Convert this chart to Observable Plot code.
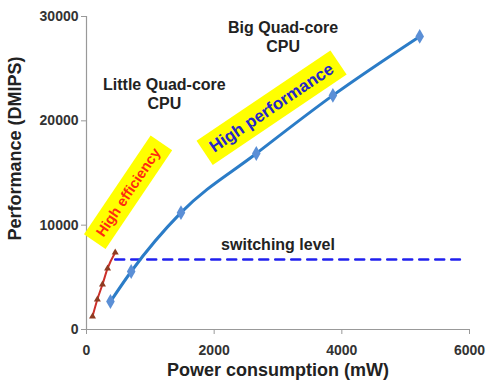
<!DOCTYPE html>
<html><head><meta charset="utf-8">
<script src="https://cdn.jsdelivr.net/npm/d3@7"></script>
<script src="https://cdn.jsdelivr.net/npm/@observablehq/plot@0.6"></script>
<style>
body{margin:0;background:#fff;}
svg{font-family:"Liberation Sans",Arial,sans-serif;}
</style>
</head><body><div id="chart"></div>
<script>
// Little quad-core CPU (power mW, performance DMIPS)
const littlePower = [94, 170, 250, 330, 450];
const littlePerf  = [1250, 2880, 4310, 5850, 7380];
// Big quad-core CPU
const bigPower = [375, 700, 1480, 2660, 3860, 5220];
const bigPerf  = [2680, 5560, 11200, 16870, 22440, 28090];
// Switching level
const switchLevel = 6710;
const switchPower = [450, 5850];
// Ticks
const xTicks = [0, 2000, 4000, 6000];
const yTicks = [0, 10000, 20000, 30000];
// Annotation texts
const annoText = ["Big Quad-core\nCPU", "Little Quad-core\nCPU", "switching level"];
const annoX = [3080, 1220, 3000];
const annoY = [28090, 22630, 8245];
const highText = ["High efficiency", "High performance"];
const highX = [656, 2900];
const highY = [13135, 21250];

const little = littlePower.map((p, i) => ({power: p, perf: littlePerf[i]}));
const big = bigPower.map((p, i) => ({power: p, perf: bigPerf[i]}));
const sw = switchPower.map(p => ({power: p, perf: switchLevel}));
const annos = annoText.map((t, i) => ({t, x: annoX[i], y: annoY[i]}));
const effs = [{t: highText[0], x: highX[0], y: highY[0]}];
const perfs = [{t: highText[1], x: highX[1], y: highY[1]}];

const chart = Plot.plot({
  width: 500,
  height: 389,
  marginLeft: 86,
  marginRight: 31,
  marginTop: 16,
  marginBottom: 60,
  style: {fontFamily: '"Liberation Sans", Arial, sans-serif', background: "#fff", overflow: "visible"},
  x: {domain: [0, 6000], label: null},
  y: {domain: [0, 30000], label: null},
  marks: [
    Plot.axisX({ticks: xTicks, tickFormat: d => String(d), tickSize: 5, stroke: "#999", fill: "#333", fontWeight: "bold", fontSize: 14, tickPadding: 11, label: null}),
    Plot.axisY({ticks: yTicks, tickFormat: d => String(d), tickSize: 5, stroke: "#999", fill: "#333", fontWeight: "bold", fontSize: 14, tickPadding: 3, label: null}),
    Plot.ruleX([0], {stroke: "#999", strokeWidth: 1.2}),
    Plot.ruleY([0], {stroke: "#999", strokeWidth: 1.2}),
    Plot.line(sw, {x: "power", y: "perf", stroke: "#2020ee", strokeWidth: 2.5, strokeDasharray: "9,7"}),
    Plot.line(little, {x: "power", y: "perf", stroke: "#cc2f2a", strokeWidth: 2, curve: "monotone-x"}),
    Plot.dot(little, {x: "power", y: "perf", symbol: "triangle", fill: "#8e3b22", r: 2.6}),
    Plot.line(big, {x: "power", y: "perf", stroke: "#2b7cc7", strokeWidth: 3, curve: "monotone-x"}),
    Plot.dot(big, {x: "power", y: "perf", symbol: "diamond", fill: "#5b8fd6", r: 4.5}),
    Plot.text(annos, {x: "x", y: "y", text: "t", fontSize: 16, fontWeight: "bold", fill: "#222", lineHeight: 1.2}),
    Plot.text(effs, {x: "x", y: "y", text: "t", fontSize: 14.5, fontWeight: "bold", fill: "#ff2a10", rotate: -56}),
    Plot.text(perfs, {x: "x", y: "y", text: "t", fontSize: 17, fontWeight: "bold", fill: "#2626c8", rotate: -34}),
    Plot.text(["Performance (DMIPS)"], {frameAnchor: "left", y: [17350], dx: -71, rotate: -90, textAnchor: "middle", fontSize: 18, fontWeight: "bold", fill: "#222"}),
    Plot.text(["Power consumption (mW)"], {frameAnchor: "bottom", x: [3000], dy: 46, fontSize: 18, fontWeight: "bold", fill: "#222"})
  ]
});
document.getElementById("chart").append(chart);

// yellow highlight boxes behind the rotated labels
chart.querySelectorAll("text").forEach(t => {
  if (!highText.includes(t.textContent)) return;
  const b = t.getBBox();
  const r = document.createElementNS("http://www.w3.org/2000/svg", "rect");
  r.setAttribute("x", b.x - 8);
  r.setAttribute("y", b.y - 5);
  r.setAttribute("width", b.width + 16);
  r.setAttribute("height", b.height + 10);
  r.setAttribute("fill", "#ffff00");
  const tr = t.getAttribute("transform");
  if (tr) r.setAttribute("transform", tr);
  t.parentNode.insertBefore(r, t);
});
</script>
</body></html>
